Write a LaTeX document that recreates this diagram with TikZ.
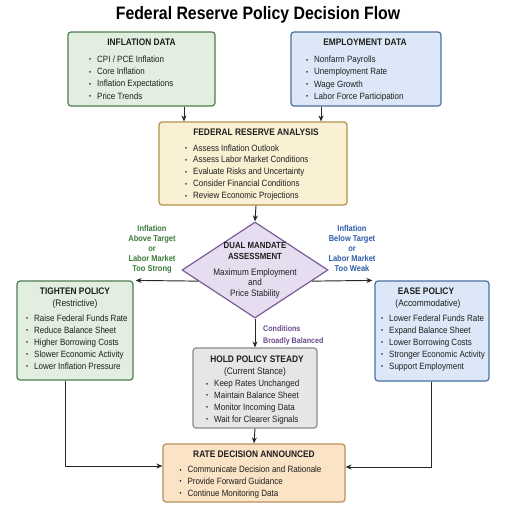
\documentclass[tikz,border=0pt]{standalone}
\usepackage{fontspec}
\setmainfont{Liberation Sans}[FakeStretch=0.88]
\usetikzlibrary{shapes.geometric,calc,arrows.meta}
\definecolor{txt}{HTML}{1E1E1E}
\definecolor{gfill}{HTML}{E2EEDF}\definecolor{gdraw}{HTML}{4E7D50}
\definecolor{bfill}{HTML}{DCE8F7}\definecolor{bdraw}{HTML}{4A70A0}
\definecolor{yfill}{HTML}{FAF1D4}\definecolor{ydraw}{HTML}{B39246}
\definecolor{pfill}{HTML}{E6DDF1}\definecolor{pdraw}{HTML}{7B5C98}
\definecolor{hfill}{HTML}{E6E6E6}\definecolor{hdraw}{HTML}{8A8A8A}
\definecolor{ofill}{HTML}{FBE3C6}\definecolor{odraw}{HTML}{B98F5A}
\definecolor{gtext}{HTML}{3C7A3A}\definecolor{btext}{HTML}{2F5DA8}\definecolor{ptext}{HTML}{6B4C8C}
\newcommand\itemlist[5]{%
  \foreach \itxt [count=\i] in {#5}
    \node[itm] (#1-\i) at (#2-8, #3+#4*\i-#4+3.3) {\makebox[8pt][l]{\raisebox{0.6pt}{\fontsize{6.5}{6.5}\selectfont\textbullet}}\itxt};}
\begin{document}
\begin{tikzpicture}[x=1pt,y=-1pt,
  box/.style={draw, rounded corners=3pt, line width=1.2pt, inner sep=0},
  arr/.style={-{Stealth[length=6pt,width=5pt]}, line width=0.95pt, draw=black!85},
  hdr/.style={anchor=base, inner sep=0, font=\fontsize{9.5}{11}\selectfont\bfseries, text=txt},
  sub/.style={anchor=base, inner sep=0, font=\fontsize{9.5}{11}\selectfont, text=txt},
  itm/.style={anchor=base west, inner sep=0, font=\fontsize{9.1}{11}\selectfont, text=txt},
  lbl/.style={anchor=base, inner sep=0, font=\fontsize{8.5}{10}\selectfont\bfseries},
]
\useasboundingbox[fill=white] (0,0) rectangle (512,512);
% title
\node[anchor=base, inner sep=0, font=\fontsize{18}{20}\selectfont\bfseries, text=black] (title) at (258,19.5) {Federal Reserve Policy Decision Flow};
% boxes
\node[box, fill=gfill, draw=gdraw, minimum width=147pt, minimum height=74pt] (infl) at (141.5,69) {};
\node[box, fill=bfill, draw=bdraw, minimum width=150pt, minimum height=74pt] (emp) at (366,69) {};
\node[box, fill=yfill, draw=ydraw, minimum width=188pt, minimum height=83pt] (fed) at (253,163.5) {};
\node[shape=diamond, draw=pdraw, fill=pfill, line width=1.2pt, inner sep=0, minimum width=146pt, minimum height=96pt] (dm) at (255,270) {};
\node[box, fill=gfill, draw=gdraw, minimum width=116pt, minimum height=99pt] (tight) at (75,330.5) {};
\node[box, fill=bfill, draw=bdraw, minimum width=114pt, minimum height=100pt] (ease) at (432,331) {};
\node[box, fill=hfill, draw=hdraw, minimum width=124pt, minimum height=80pt] (hold) at (255,388) {};
\node[box, fill=ofill, draw=odraw, minimum width=182pt, minimum height=58pt] (rate) at (254,473) {};
% box texts
\node[hdr] (infl-h) at (141.5,45.4) {INFLATION DATA};
\itemlist{infl}{97}{59}{12.3}{CPI / PCE Inflation, Core Inflation, Inflation Expectations, Price Trends}
\node[hdr] (emp-h) at (365,45.4) {EMPLOYMENT DATA};
\itemlist{emp}{314}{59.3}{12.3}{Nonfarm Payrolls, Unemployment Rate, Wage Growth, Labor Force Participation}
\node[hdr] (fed-h) at (256,135.4) {FEDERAL RESERVE ANALYSIS};
\itemlist{fed}{193}{147.7}{11.9}{Assess Inflation Outlook, Assess Labor Market Conditions, Evaluate Risks and Uncertainty, Consider Financial Conditions, Review Economic Projections}
\node[anchor=base, inner sep=0, font=\fontsize{8.9}{10}\selectfont\bfseries, text=txt] (dm-h1) at (255,248.9) {DUAL MANDATE};
\node[anchor=base, inner sep=0, font=\fontsize{8.9}{10}\selectfont\bfseries, text=txt] (dm-h2) at (255,259.2) {ASSESSMENT};
\node[anchor=base, inner sep=0, font=\fontsize{9.3}{10}\selectfont, text=txt] (dm-t1) at (255,275) {Maximum Employment};
\node[anchor=base, inner sep=0, font=\fontsize{9.3}{10}\selectfont, text=txt] (dm-t2) at (255,285.6) {and};
\node[anchor=base, inner sep=0, font=\fontsize{9.3}{10}\selectfont, text=txt] (dm-t3) at (255,296.6) {Price Stability};
\node[hdr] (tight-h) at (75,294.4) {TIGHTEN POLICY};
\node[sub] (tight-s) at (75,306.7) {(Restrictive)};
\itemlist{tight}{34}{317.7}{12}{Raise Federal Funds Rate, Reduce Balance Sheet, Higher Borrowing Costs, Slower Economic Activity, Lower Inflation Pressure}
\node[hdr] (ease-h) at (426,294.4) {EASE POLICY};
\node[sub] (ease-s) at (428,306.7) {(Accommodative)};
\itemlist{ease}{389}{317.7}{12}{Lower Federal Funds Rate, Expand Balance Sheet, Lower Borrowing Costs, Stronger Economic Activity, Support Employment}
\node[hdr] (hold-h) at (257,362.4) {HOLD POLICY STEADY};
\node[sub] (hold-s) at (255,374.1) {(Current Stance)};
\itemlist{hold}{214}{383.3}{11.9}{Keep Rates Unchanged, Maintain Balance Sheet, Monitor Incoming Data, Wait for Clearer Signals}
\node[hdr] (rate-h) at (254,457.4) {RATE DECISION ANNOUNCED};
\itemlist{rate}{187.3}{469.3}{11.7}{Communicate Decision and Rationale, Provide Forward Guidance, Continue Monitoring Data}
% connectors
\draw[arr] ([xshift=42.5pt]infl.south) -- ([xshift=42.5pt]infl.south |- fed.north);
\draw[arr] ([xshift=-45pt]emp.south) -- ([xshift=-45pt]emp.south |- fed.north);
\draw[arr] ([xshift=3pt]fed.south) -- (dm.north);
\coordinate (dmL) at ($(dm.west)!0.229!(dm.south)$);
\coordinate (dmR) at ($(dm.east)!0.229!(dm.south)$);
\draw[arr] (dmL) -- ([xshift=2pt]tight.north east);
\draw[arr] (dmR) -- ([xshift=-2pt]ease.north west);
\draw[arr] (dm.south) -- (hold.north);
\draw[arr] (hold.south) -- (rate.north);
\draw[arr] ([xshift=-10pt]tight.south) |- ([yshift=7pt]rate.west);
\draw[arr] ([xshift=-1pt]ease.south) |- ([yshift=6pt]rate.east);
% branch labels
\foreach \s [count=\i] in {Inflation, Above Target, or, Labor Market, Too Strong}
  \node[lbl, text=gtext] (lblL-\i) at (152, 228+10*\i-10+3.1) {\s};
\foreach \s [count=\i] in {Inflation, Below Target, or, Labor Market, Too Weak}
  \node[lbl, text=btext] (lblR-\i) at (352, 228+10*\i-10+3.1) {\s};
\node[lbl, anchor=base west, text=ptext, font=\fontsize{8.1}{10}\selectfont\bfseries] (lblC-1) at (263,331.3) {Conditions};
\node[lbl, anchor=base west, text=ptext, font=\fontsize{8.1}{10}\selectfont\bfseries] (lblC-2) at (263,343) {Broadly Balanced};
\end{tikzpicture}
\end{document}
